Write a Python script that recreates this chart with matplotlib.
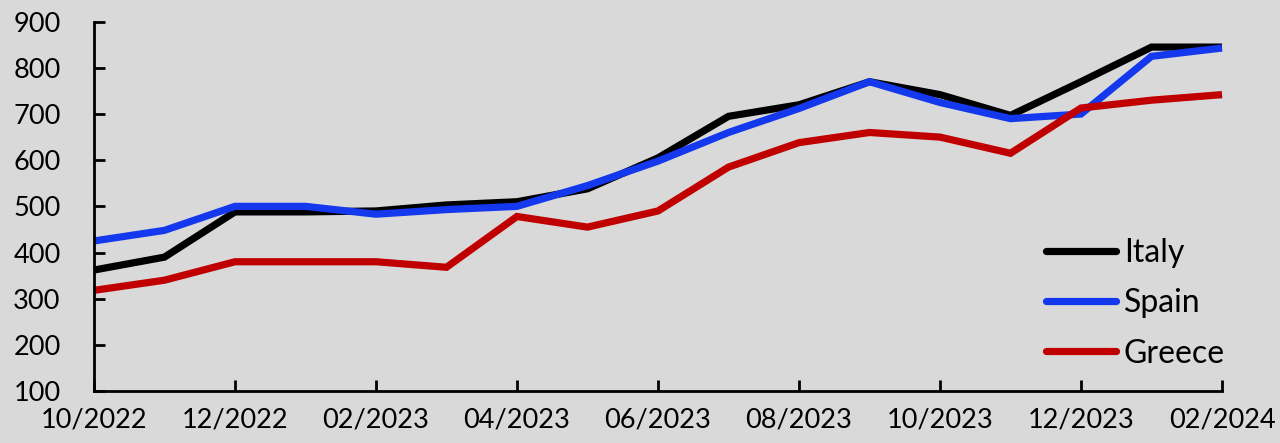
import matplotlib
matplotlib.use("Agg")
import matplotlib.pyplot as plt
from matplotlib.lines import Line2D

months = ["10/2022", "11/2022", "12/2022", "01/2023", "02/2023", "03/2023",
          "04/2023", "05/2023", "06/2023", "07/2023", "08/2023", "09/2023",
          "10/2023", "11/2023", "12/2023", "01/2024", "02/2024"]
italy = [362, 390, 488, 488, 490, 503, 510, 538, 605, 695, 720, 770, 742, 697, 770, 845, 845]
spain = [425, 448, 500, 500, 483, 493, 500, 545, 598, 660, 712, 770, 725, 690, 700, 825, 843]
greece = [318, 340, 380, 380, 380, 368, 478, 455, 490, 585, 638, 660, 650, 615, 713, 730, 742]
series_names = ["Italy", "Spain", "Greece"]
colors = ["#000000", "#1438EE", "#C00000"]
yticks = [100, 200, 300, 400, 500, 600, 700, 800, 900]

plt.rcParams['font.family'] = ['Lato', 'DejaVu Sans']
bg = "#D9D9D9"
fig = plt.figure(figsize=(12.8, 4.43), dpi=100, facecolor=bg)
ax = fig.add_axes([0.0734, 0.1174, 0.9547 - 0.0734, 0.951 - 0.1174])
ax.set_facecolor(bg)

x = list(range(len(months)))
for vals, name, c in zip([italy, spain, greece], series_names, colors):
    ax.plot(x, vals, color=c, lw=5.2, label=name, solid_joinstyle='miter',
            solid_capstyle='butt', clip_on=False)

ax.set_xlim(0, len(months) - 1)
ax.set_ylim(100, 900)
ax.set_yticks(yticks)
ax.set_yticklabels([str(v) for v in yticks], fontsize=19.5)
ax.set_xticks(x[::2])
ax.set_xticklabels(months[::2], fontsize=19.5)
for s in ["top", "right"]:
    ax.spines[s].set_visible(False)
for s in ["left", "bottom"]:
    ax.spines[s].set_linewidth(2)
ax.tick_params(axis='both', direction='in', length=8, width=2, colors='black')
ax.tick_params(axis='y', pad=24)
ax.tick_params(axis='x', pad=12)

handles = [Line2D([0], [0], color=c, lw=5.2, solid_capstyle='round') for c in colors]
leg = ax.legend(handles, series_names, loc='lower right', bbox_to_anchor=(1.014, 0.026),
                frameon=False, fontsize=23, handlelength=2.2, handletextpad=0.25,
                labelspacing=0.64, borderaxespad=0)

fig.savefig("out.png", dpi=100, facecolor=bg)
